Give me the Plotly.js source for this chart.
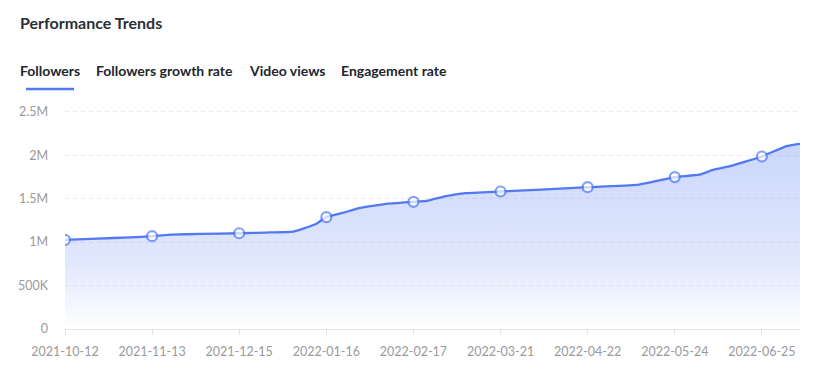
<!DOCTYPE html>
<html>
<head>
<meta charset="utf-8">
<script src="https://cdn.plot.ly/plotly-3.0.1.min.js"></script>
<style>
html,body{margin:0;padding:0;background:#fff;}
#chart{width:822px;height:377px;}
</style>
</head>
<body>
<div id="chart"></div>
<script>
// Data
const dates = [
  "2021-10-12","2021-10-24","2021-11-05","2021-11-13","2021-11-20","2021-12-01",
  "2021-12-15","2021-12-25","2022-01-04","2022-01-08","2022-01-12","2022-01-16",
  "2022-01-22","2022-01-28","2022-02-07","2022-02-17","2022-02-22","2022-03-01",
  "2022-03-08","2022-03-21","2022-04-12","2022-04-22","2022-05-10","2022-05-24",
  "2022-06-02","2022-06-07","2022-06-14","2022-06-25","2022-07-04","2022-07-09"
];
const followers = [
  1025000,1040000,1055000,1068000,1085000,1095000,
  1102000,1110000,1121000,1160000,1205000,1287000,
  1335000,1390000,1440000,1463000,1475000,1530000,
  1563000,1582000,1615000,1632000,1658000,1748000,
  1775000,1830000,1880000,1985000,2105000,2131000
];
const tickDates = ["2021-10-12","2021-11-13","2021-12-15","2022-01-16","2022-02-17",
                   "2022-03-21","2022-04-22","2022-05-24","2022-06-25"];
const yTickVals = [0,500000,1000000,1500000,2000000,2500000];
const yTickText = ["0","500K","1M","1.5M","2M","2.5M"];
const tabs = ["Followers","Followers growth rate","Video views","Engagement rate"];
const tabX = [18,94,247,339];
const chartTitle = "Performance Trends";

const W = 822, H = 377, L = 65, R = 22, T = 110, B = 48;
const pw = W - L - R, ph = H - T - B;
const px = x => (x - L) / pw;
const py = y => (H - B - y) / ph;

const blue = "#5279F2";
const markerSizes = dates.map(d => tickDates.includes(d) ? 10 : 0);

const trace = {
  type: "scatter",
  mode: "lines+markers",
  x: dates,
  y: followers,
  line: {color: blue, width: 2.3, shape: "spline", smoothing: 0.3},
  marker: {size: markerSizes, color: "#ffffff", line: {color: blue, width: 2.2}},
  fill: "tozeroy",
  fillgradient: {
    type: "vertical",
    colorscale: [[0, "rgba(82,121,242,0)"], [0.35, "rgba(82,121,242,0.17)"], [1, "rgba(82,121,242,0.3)"]]
  },
  hoverinfo: "x+y"
};

const annotations = [{
  text: chartTitle, xref: "paper", yref: "paper", x: px(18), y: py(22),
  xanchor: "left", yanchor: "middle", showarrow: false,
  font: {family: "Lato, 'Open Sans', sans-serif", size: 16, color: "#2b2f36", weight: 700}
}];
tabs.forEach((t, i) => annotations.push({
  text: t, xref: "paper", yref: "paper", x: px(tabX[i]), y: py(70),
  xanchor: "left", yanchor: "middle", showarrow: false,
  font: {family: "Lato, 'Open Sans', sans-serif", size: 14, color: "#23262d", weight: 700}
}));

const layout = {
  width: W, height: H,
  margin: {l: L, r: R, t: T, b: B, pad: 0},
  paper_bgcolor: "#ffffff", plot_bgcolor: "#ffffff",
  showlegend: false,
  font: {family: "Lato, 'Open Sans', sans-serif", size: 12, color: "#999999"},
  xaxis: {
    type: "date",
    range: ["2021-10-12", "2022-07-09"],
    tickmode: "array",
    tickvals: tickDates,
    ticktext: tickDates,
    showgrid: false,
    showline: true, linecolor: "#e3e3e3", linewidth: 1,
    ticks: "outside", ticklen: 5, tickcolor: "#e3e3e3",
    ticklabelstandoff: 6,
    tickfont: {size: 12.5, color: "#9a9a9a"},
    zeroline: false, fixedrange: true
  },
  yaxis: {
    range: [0, 2520000],
    tickmode: "array",
    tickvals: yTickVals,
    ticktext: yTickText,
    showgrid: true, gridcolor: "#ebebeb", griddash: "4px,4px", gridwidth: 1,
    zeroline: false, showline: false,
    ticks: "", ticklabelstandoff: 16,
    tickfont: {size: 12.5, color: "#9a9a9a"},
    fixedrange: true
  },
  shapes: [{
    type: "line", xref: "paper", yref: "paper",
    x0: px(26), x1: px(74), y0: py(89), y1: py(89),
    line: {color: "#5279F2", width: 2.5}
  }],
  annotations: annotations
};

Plotly.newPlot("chart", [trace], layout, {displayModeBar: false, staticPlot: true});
</script>
</body>
</html>
